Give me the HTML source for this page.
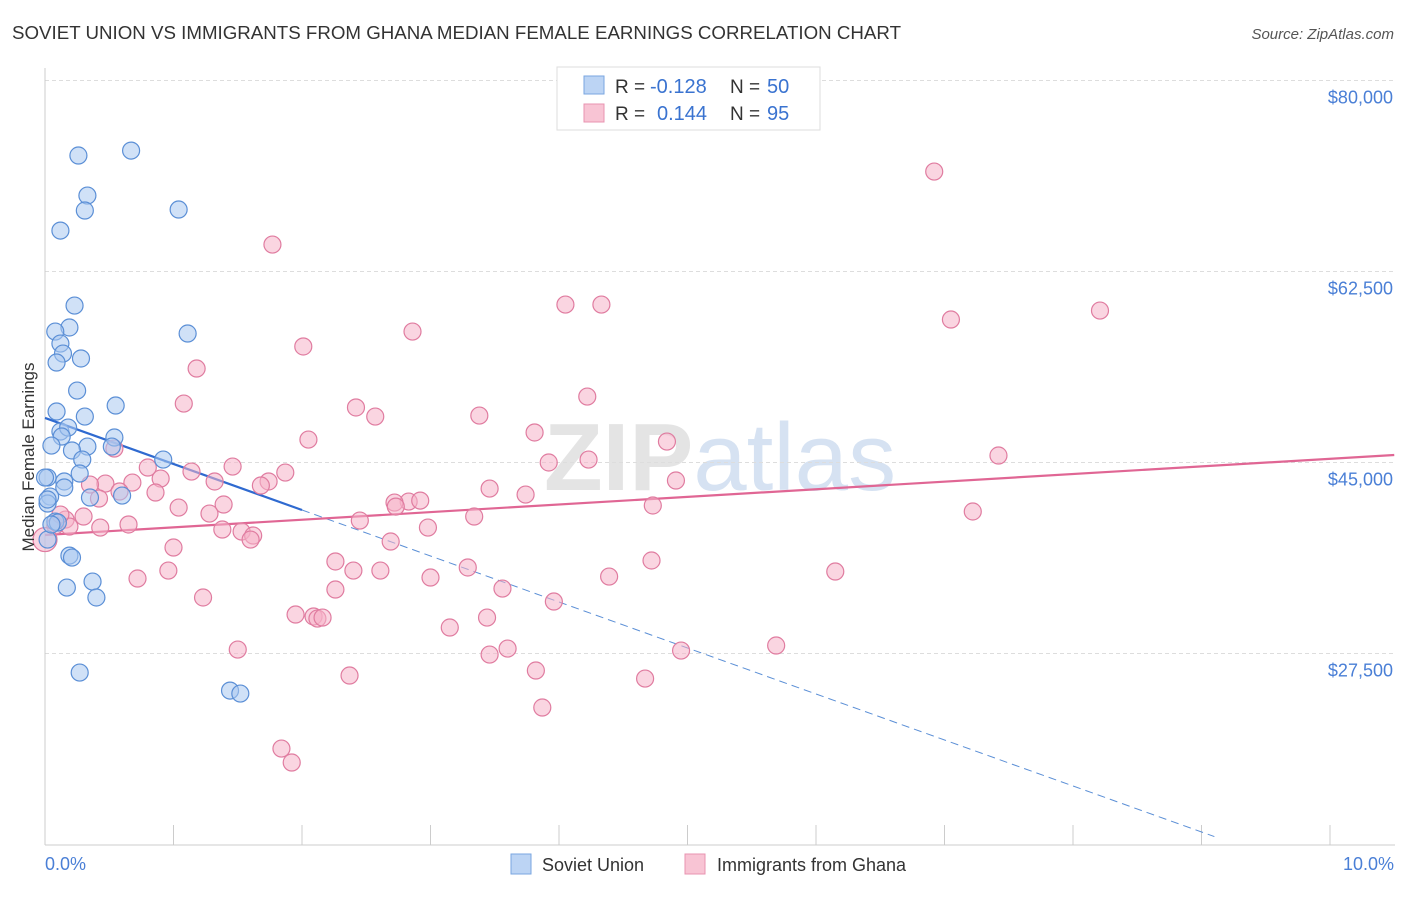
<!DOCTYPE html>
<html><head><meta charset="utf-8"><style>
body{margin:0;background:#fff;font-family:"Liberation Sans",sans-serif;}
svg text{font-family:"Liberation Sans",sans-serif;}
</style></head><body>
<svg id="chart" width="1406" height="892" xmlns="http://www.w3.org/2000/svg">
<text x="12" y="39" font-size="18" fill="#333" textLength="889" lengthAdjust="spacingAndGlyphs">SOVIET UNION VS IMMIGRANTS FROM GHANA MEDIAN FEMALE EARNINGS CORRELATION CHART</text>
<text x="1394" y="39" font-size="15" fill="#555" text-anchor="end" font-style="italic">Source: ZipAtlas.com</text>
<text x="720" y="490" font-size="96" fill="#e4e4e4" text-anchor="middle" font-family="Liberation Serif" font-weight="bold">ZIP<tspan fill="#d6e2f2" font-family="Liberation Sans" font-weight="normal">atlas</tspan></text>
<g id="grid"></g><g id="axes"></g><g id="trend"></g><g id="pts"></g>
<text transform="translate(34,457) rotate(-90)" font-size="17" fill="#333" text-anchor="middle">Median Female Earnings</text>
<text x="45" y="870" font-size="18" fill="#4a7fd6">0.0%</text>
<text x="1394" y="870" font-size="18" fill="#4a7fd6" text-anchor="end">10.0%</text>
<g>
<rect x="557" y="67" width="263" height="63" fill="#fff" stroke="#ddd"/>
<rect x="584" y="76" width="20" height="18" fill="#bcd4f4" stroke="#7aa6e0"/>
<rect x="584" y="104" width="20" height="18" fill="#f8c4d4" stroke="#e893b0"/>
<text x="615" y="93" font-size="19" fill="#333">R =</text>
<text x="650" y="93" font-size="20" fill="#3a73d0">-0.128</text>
<text x="730" y="93" font-size="19" fill="#333">N =</text>
<text x="767" y="93" font-size="20" fill="#3a73d0">50</text>
<text x="615" y="120" font-size="19" fill="#333">R =</text>
<text x="657" y="120" font-size="20" fill="#3a73d0">0.144</text>
<text x="730" y="120" font-size="19" fill="#333">N =</text>
<text x="767" y="120" font-size="20" fill="#3a73d0">95</text>
</g>
<g>
<rect x="511" y="854" width="20" height="20" fill="#bcd4f4" stroke="#7aa6e0"/>
<text x="542" y="871" font-size="18" fill="#333">Soviet Union</text>
<rect x="685" y="854" width="20" height="20" fill="#f8c4d4" stroke="#e893b0"/>
<text x="717" y="871" font-size="18" fill="#333">Immigrants from Ghana</text>
</g>
</svg>
<script>
const yTicks=[80000,62500,45000,27500];
const yTickLabels=["$80,000","$62,500","$45,000","$27,500"];
const blueX=[0.26,0.67,0.33,0.31,1.04,0.12,0.23,0.19,0.08,1.11,0.12,0.14,0.28,0.09,0.25,0.55,0.09,0.31,0.12,0.18,0.13,0.54,0.05,0.33,0.21,0.52,0.92,0.29,0.27,0.02,0.15,0.15,0.35,0.60,0.04,0.02,0.08,0.10,0.19,0.21,0.37,0.17,0.40,0.27,1.44,1.52,0.02,0.05,0.02,0.00];
const blueY=[73130,73580,69460,68090,68180,66250,59380,57370,57000,56820,55900,54980,54530,54160,51590,50220,49670,49210,47840,48200,47380,47290,46550,46460,46100,46460,45270,45270,43990,43620,43260,42710,41790,41970,41880,41240,39590,39500,36470,36290,34090,33540,32630,25750,24100,23830,37940,39320,41610,43620];
const pinkX=[6.92,1.77,4.05,4.33,8.21,7.05,2.86,2.01,1.18,4.22,1.08,2.42,2.57,3.38,3.81,2.05,4.84,7.42,0.54,4.23,3.92,0.80,1.46,1.14,1.87,4.91,0.90,0.68,1.32,0.47,1.74,1.68,0.58,0.86,3.46,3.74,0.42,1.39,2.83,2.92,2.72,2.73,4.73,1.04,1.28,7.22,3.34,2.45,0.30,0.65,1.38,2.98,1.53,1.62,1.60,2.69,0.16,0.08,0.19,0.00,1.00,2.26,4.72,3.29,2.61,0.96,2.40,4.39,3.00,0.72,6.15,3.56,2.26,3.96,1.23,1.95,2.09,2.12,2.16,3.44,3.15,3.60,1.50,4.95,5.69,3.46,2.37,3.82,4.67,3.87,1.84,1.92,0.12,0.35,0.43];
const pinkY=[71660,64970,59470,59470,58920,58100,57000,55630,53610,51040,50400,50040,49210,49300,47750,47100,46920,45640,46280,45270,45000,44540,44630,44170,44080,43350,43530,43160,43260,43070,43260,42890,42340,42250,42610,42060,41700,41150,41420,41510,41330,40960,41060,40870,40320,40510,40050,39680,40050,39320,38860,39040,38670,38310,37940,37760,39770,39220,39130,37940,37210,35930,36020,35380,35100,35100,35100,34550,34460,34370,35010,33450,33360,32260,32630,31070,30890,30700,30790,30790,29880,27950,27860,27770,28230,27400,25480,25940,25200,22550,18790,17510,40230,42980,39040];
const blueTrend=[49080,-4215]; // intercept, slope per %
const pinkTrend=[38360,698];
const NS="http://www.w3.org/2000/svg";
const X=p=>45+p*128.5, Y=v=>462.5-(v-45000)/91.63;
function mk(tag,attrs,parent){const e=document.createElementNS(NS,tag);for(const k in attrs)e.setAttribute(k,attrs[k]);document.getElementById(parent).appendChild(e);return e;}
yTicks.forEach((t,i)=>{
 const l=mk('line',{x1:45,x2:1395,y1:Y(t),y2:Y(t),stroke:'#ddd','stroke-dasharray':'4,3'},'grid');
 
 
 const tx=mk('text',{x:1393,y:Y(t)+23,'font-size':18,fill:'#4a7fd6','text-anchor':'end'},'grid');
 tx.textContent=yTickLabels[i];
 
 
});
const ax=mk('line',{x1:45,x2:1395,y1:845,y2:845,stroke:'#ccc'},'axes');


const ay=mk('line',{x1:45,x2:45,y1:68,y2:845,stroke:'#ccc'},'axes');


for(let i=0;i<=10;i++){const t=mk('line',{x1:X(i),x2:X(i),y1:825,y2:845,stroke:'#ccc'},'axes');
 
 }
function pt(x,y,fill,stroke,name,r){const c=mk('circle',{cx:X(x),cy:Y(y),r:r,fill:fill,'fill-opacity':0.55,stroke:stroke,'stroke-width':1.2},'pts');
 
 }
pinkX.forEach((x,i)=>pt(x,pinkY[i],'#f6b3c9','#e07ca0','ghana-point',(x===0?12:8.5)));
blueX.forEach((x,i)=>pt(x,blueY[i],'#a9c8f0','#5b8fd6','soviet-point',8.5));
const tb=p=>blueTrend[0]+blueTrend[1]*p, tp=p=>pinkTrend[0]+pinkTrend[1]*p;
const b1=mk('line',{x1:X(0),y1:Y(tb(0)),x2:X(2),y2:Y(tb(2)),stroke:'#2f6ad0','stroke-width':2.2},'trend');


const b2=mk('line',{x1:X(2),y1:Y(tb(2)),x2:X(9.1),y2:Y(tb(9.1)),stroke:'#5b8fd6','stroke-width':1,'stroke-dasharray':'8,5'},'trend');


const p1=mk('line',{x1:X(0),y1:Y(tp(0)),x2:X(10.5),y2:Y(tp(10.5)),stroke:'#e06694','stroke-width':2.2},'trend');


</script>
</body></html>
